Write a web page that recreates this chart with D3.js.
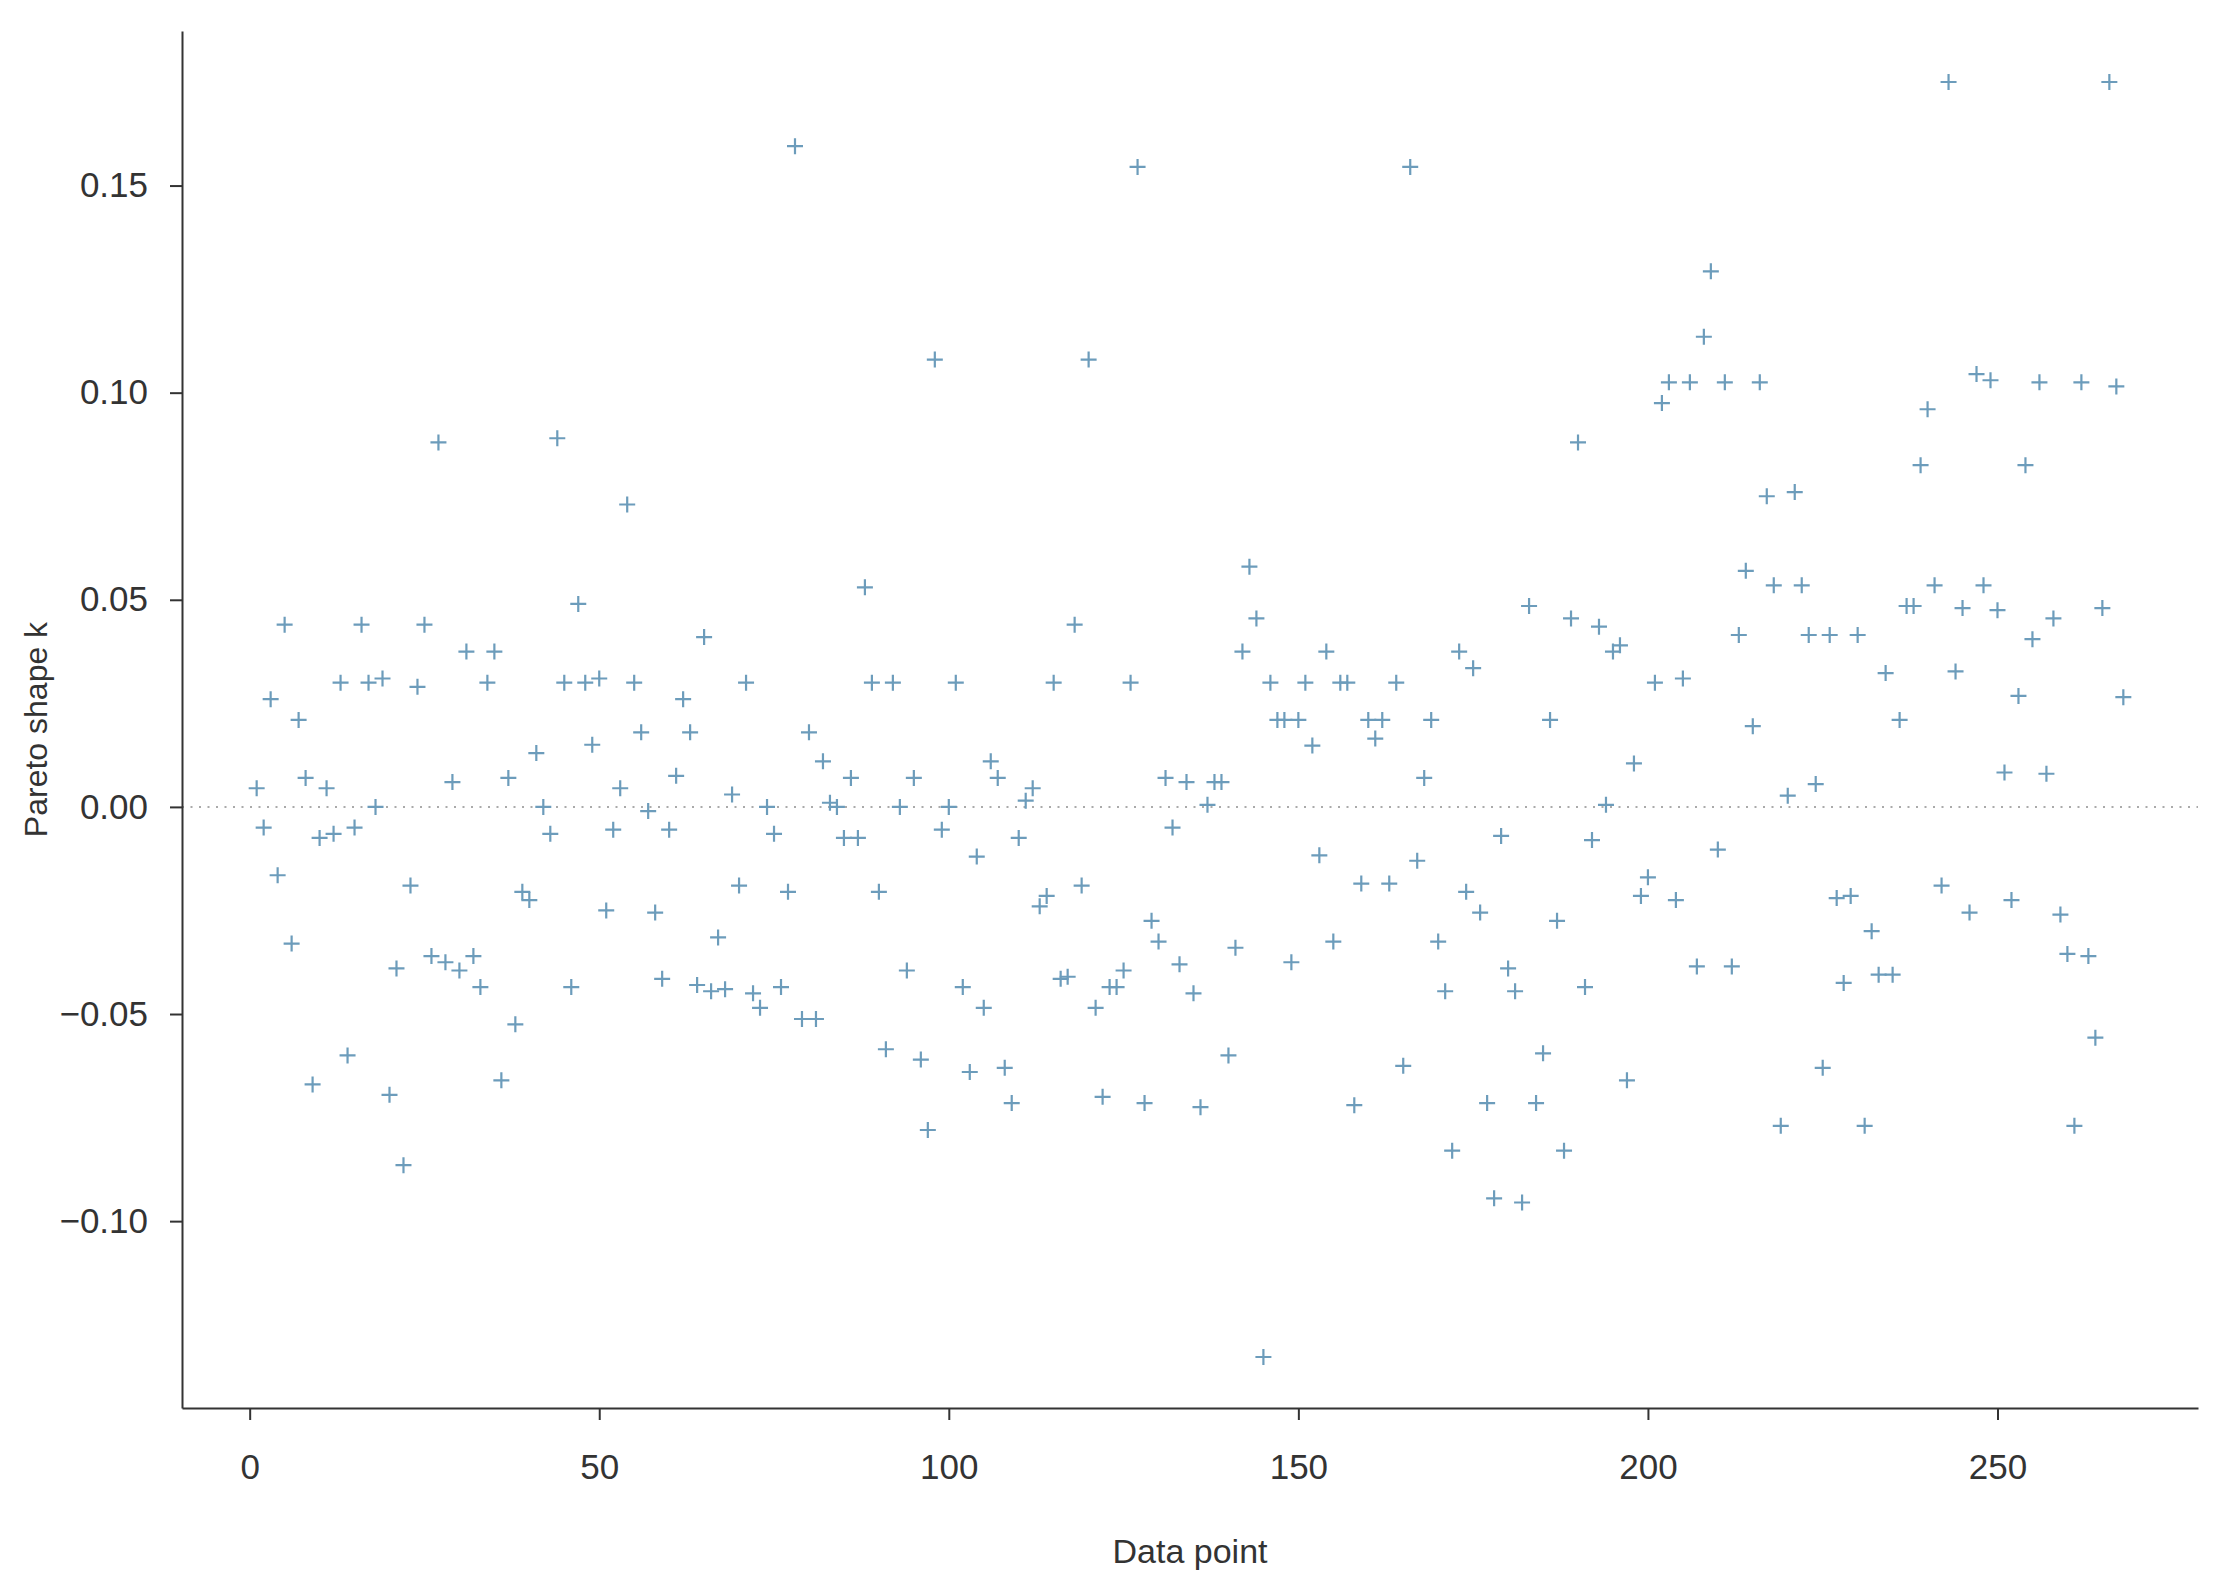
<!DOCTYPE html>
<html>
<head>
<meta charset="utf-8">
<script src="https://cdn.jsdelivr.net/npm/d3@7"></script>
<style>
  html, body { margin: 0; padding: 0; background: #fff; }
  svg text { font-family: "Liberation Sans", Arial, sans-serif; fill: #333; }
</style>
</head>
<body>
<div id="chart"></div>
<script>
const WIDTH = 2231;
const HEIGHT = 1590;

// Pareto shape k, one value per data point (index 1..268)
const paretoK = [
  0.0045, -0.005, 0.026, -0.0165, 0.044, -0.033, 0.021, 0.007, -0.067, -0.0075,
  0.0045, -0.0065, 0.030, -0.060, -0.005, 0.044, 0.030, 0.000, 0.031, -0.0695,
  -0.039, -0.0865, -0.019, 0.029, 0.044, -0.036, 0.088, -0.0375, 0.006, -0.0395,
  0.0375, -0.036, -0.0435, 0.030, 0.0375, -0.066, 0.007, -0.0525, -0.0205, -0.0225,
  0.013, 0.000, -0.0065, 0.089, 0.030, -0.0435, 0.049, 0.030, 0.015, 0.031,
  -0.025, -0.0055, 0.0045, 0.073, 0.030, 0.018, -0.001, -0.0255, -0.0415, -0.0055,
  0.0075, 0.026, 0.018, -0.043, 0.041, -0.0445, -0.0315, -0.044, 0.003, -0.019,
  0.030, -0.045, -0.0485, 0.000, -0.0065, -0.0435, -0.0205, 0.1595, -0.0512, 0.018,
  -0.0512, 0.011, 0.001, 0.000, -0.0075, 0.007, -0.0075, 0.053, 0.030, -0.0205,
  -0.0585, 0.030, 0.000, -0.0395, 0.007, -0.061, -0.078, 0.108, -0.0055, 0.000,
  0.030, -0.0435, -0.064, -0.012, -0.0485, 0.011, 0.007, -0.063, -0.0715, -0.0075,
  0.0015, 0.0045, -0.024, -0.0215, 0.030, -0.0415, -0.041, 0.044, -0.019, 0.108,
  -0.0485, -0.070, -0.0435, -0.0435, -0.0395, 0.030, 0.1545, -0.0715, -0.0275, -0.0325,
  0.007, -0.005, -0.038, 0.006, -0.045, -0.0725, 0.0005, 0.006, 0.006, -0.060,
  -0.034, 0.0375, 0.058, 0.0455, -0.1328, 0.030, 0.021, 0.021, -0.0375, 0.021,
  0.030, 0.0148, -0.0117, 0.0375, -0.0325, 0.030, 0.030, -0.072, -0.0185, 0.021,
  0.0165, 0.021, -0.0185, 0.030, -0.0625, 0.1545, -0.013, 0.007, 0.021, -0.0325,
  -0.0445, -0.083, 0.0375, -0.0205, 0.0335, -0.0255, -0.0715, -0.0945, -0.007, -0.039,
  -0.0445, -0.0955, 0.0485, -0.0715, -0.0595, 0.021, -0.0275, -0.083, 0.0455, 0.088,
  -0.0435, -0.008, 0.0435, 0.0005, 0.0375, 0.039, -0.066, 0.0105, -0.0215, -0.017,
  0.030, 0.0975, 0.1025, -0.0225, 0.031, 0.1025, -0.0385, 0.1135, 0.1293, -0.0103,
  0.1025, -0.0385, 0.0415, 0.057, 0.0195, 0.1025, 0.075, 0.0535, -0.077, 0.0027,
  0.076, 0.0535, 0.0415, 0.0055, -0.063, 0.0415, -0.022, -0.0425, -0.0215, 0.0415,
  -0.077, -0.030, -0.0405, 0.0323, -0.0405, 0.021, 0.0485, 0.0485, 0.0825, 0.096,
  0.0535, -0.019, 0.175, 0.0327, 0.048, -0.0255, 0.1045, 0.0535, 0.103, 0.0475,
  0.0083, -0.0225, 0.0268, 0.0825, 0.0405, 0.1025, 0.008, 0.0455, -0.026, -0.0355,
  -0.077, 0.1025, -0.036, -0.0557, 0.048, 0.175, 0.1015, 0.0265
];

const xTicks = [0, 50, 100, 150, 200, 250];
const yTicks = [-0.10, -0.05, 0.00, 0.05, 0.10, 0.15];

const points = paretoK.map((k, i) => ({ index: i + 1, k }));

// plot box edges
const plotLeft = 182, plotRight = 2198, plotTop = 31, plotBottom = 1408;

// R-style 4% padding around the data range
const xPad = (points.length - 1) * 0.04;
const x = d3.scaleLinear()
  .domain([1 - xPad, points.length + xPad])
  .range([plotLeft, plotRight]);

const [kMin, kMax] = d3.extent(paretoK);
const yPad = (kMax - kMin) * 0.04;
const y = d3.scaleLinear()
  .domain([kMin - yPad, kMax + yPad])
  .range([plotBottom, plotTop]);

const svg = d3.select('#chart')
  .append('svg')
  .attr('width', WIDTH)
  .attr('height', HEIGHT);

// zero reference line
svg.append('line')
  .attr('x1', plotLeft)
  .attr('x2', plotRight)
  .attr('y1', y(0))
  .attr('y2', y(0))
  .attr('stroke', '#aaa')
  .attr('stroke-width', 2)
  .attr('stroke-dasharray', '2,6.5');

const fmt = v => d3.format('.2f')(v).replace('-', '\u2212');

const xAxis = svg.append('g')
  .attr('transform', `translate(0,${plotBottom})`)
  .call(d3.axisBottom(x).tickValues(xTicks).tickSize(12).tickPadding(34).tickSizeOuter(0));

const yAxis = svg.append('g')
  .attr('transform', `translate(${plotLeft},0)`)
  .call(d3.axisLeft(y).tickValues(yTicks).tickFormat(fmt).tickSize(12).tickPadding(22).tickSizeOuter(0));

[xAxis, yAxis].forEach(a => {
  a.select('.domain').attr('stroke', '#333').attr('stroke-width', 2);
  a.selectAll('.tick line').attr('stroke', '#333').attr('stroke-width', 2);
  a.selectAll('.tick text').attr('font-size', 35).attr('fill', '#333');
});

// point marks: "+" glyphs
const arm = 8;
const marks = svg.append('g')
  .attr('stroke', '#6c9cbb')
  .attr('stroke-width', 2.2)
  .attr('fill', 'none');

marks.selectAll('path.pt')
  .data(points)
  .join('path')
  .attr('class', 'pt')
  .attr('d', d => {
    const cx = x(d.index), cy = y(d.k);
    return `M${cx - arm},${cy}H${cx + arm}M${cx},${cy - arm}V${cy + arm}`;
  });

svg.append('text')
  .attr('x', (plotLeft + plotRight) / 2)
  .attr('y', 1563)
  .attr('text-anchor', 'middle')
  .attr('font-size', 34)
  .text('Data point');

svg.append('text')
  .attr('transform', `translate(47,${(plotTop + plotBottom) / 2 + 10}) rotate(-90)`)
  .attr('text-anchor', 'middle')
  .attr('font-size', 32)
  .text('Pareto shape k');
</script>
</body>
</html>
